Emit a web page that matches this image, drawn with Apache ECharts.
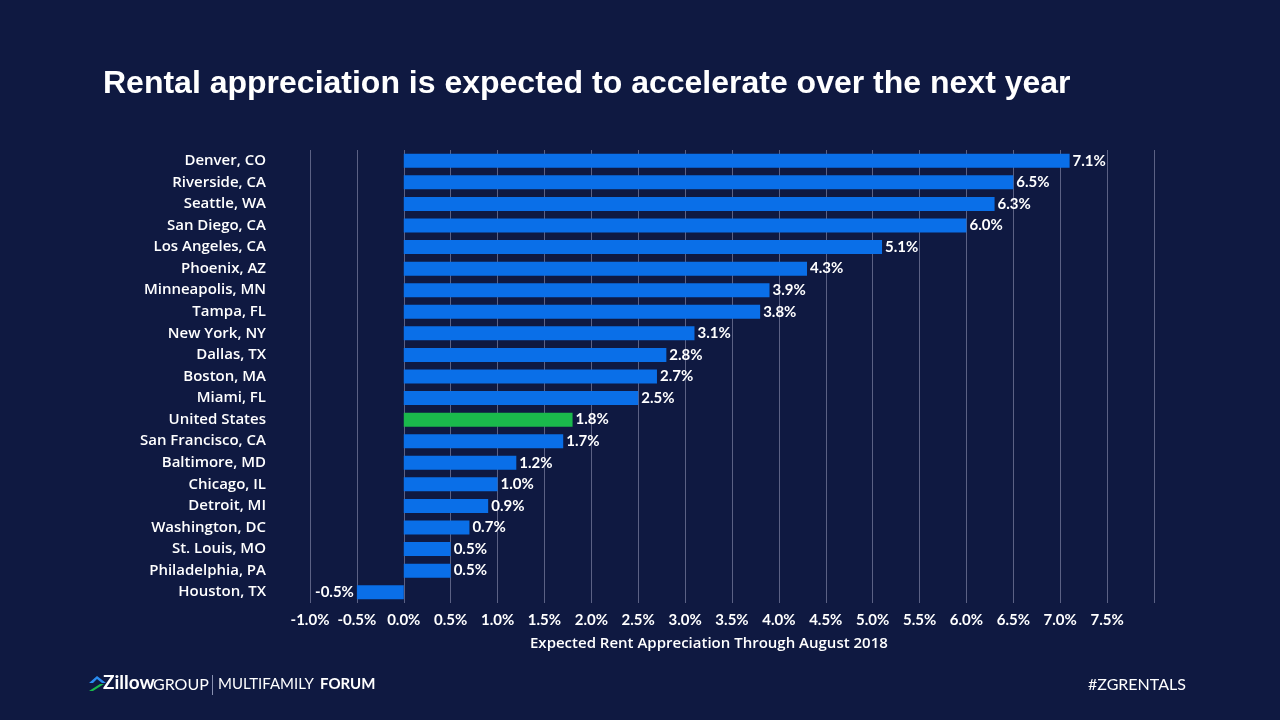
<!DOCTYPE html>
<html>
<head>
<meta charset="utf-8">
<script src="https://cdn.jsdelivr.net/npm/echarts@6/dist/echarts.min.js"></script>
<style>
html,body{margin:0;padding:0;background:#0f1941;}
#c{width:1280px;height:720px;}
</style>
</head>
<body>
<div id="c"></div>
<script>
const categories = ["Denver, CO","Riverside, CA","Seattle, WA","San Diego, CA","Los Angeles, CA","Phoenix, AZ","Minneapolis, MN","Tampa, FL","New York, NY","Dallas, TX","Boston, MA","Miami, FL","United States","San Francisco, CA","Baltimore, MD","Chicago, IL","Detroit, MI","Washington, DC","St. Louis, MO","Philadelphia, PA","Houston, TX"];
const values = [7.1,6.5,6.3,6.0,5.1,4.3,3.9,3.8,3.1,2.8,2.7,2.5,1.8,1.7,1.2,1.0,0.9,0.7,0.5,0.5,-0.5];
const highlight = "United States";
const title = "Rental appreciation is expected to accelerate over the next year";
const axisTitle = "Expected Rent Appreciation Through August 2018";

const FONT = "Lato, 'Open Sans', sans-serif";
const WFONT = "'Open Sans', Lato, sans-serif";
const chart = echarts.init(document.getElementById('c'));
const data = values.map((v, i) => ({
  value: v,
  itemStyle: { color: categories[i] === highlight ? '#1ab94c' : '#0a6fe8' },
  label: { position: v < 0 ? 'left' : 'right' }
}));
chart.setOption({
  backgroundColor: '#0f1941',
  animation: false,
  title: {
    text: title, left: 98, top: 63,
    textStyle: { color: '#ffffff', fontSize: 32, fontWeight: 'bold', fontFamily: "'Liberation Sans', Arial, sans-serif" }
  },
  grid: { left: 310, right: 126, top: 150, bottom: 117, containLabel: false },
  xAxis: {
    type: 'value', min: -1, max: 8, interval: 0.5,
    axisLine: { show: false }, axisTick: { show: false },
    splitLine: { show: true, lineStyle: { color: '#5b6184', width: 1 } },
    axisLabel: {
      color: '#ffffff', fontSize: 15, fontFamily: FONT, fontWeight: 'bold', margin: 10,
      formatter: v => (v >= 7.99 ? '' : v.toFixed(1) + '%')
    }
  },
  yAxis: {
    type: 'category', data: categories, inverse: true,
    axisLine: { show: false }, axisTick: { show: false },
    axisLabel: { color: '#ffffff', fontSize: 15, fontFamily: WFONT, fontWeight: 600, margin: 44 }
  },
  series: [{
    type: 'bar', data: data, barCategoryGap: '35%',
    label: {
      show: true, color: '#ffffff', fontSize: 15, fontFamily: FONT, fontWeight: 'bold', distance: 3,
      formatter: p => p.value.toFixed(1) + '%'
    }
  }],
  graphic: [
    { type: 'text', left: 530, top: 636, style: { text: axisTitle, fill: '#ffffff', fontSize: 15, fontWeight: 600, fontFamily: WFONT } },
    { type: 'polygon', shape: { points: [[89,683],[97,676],[106,683],[102,683],[97,679],[93,683]] }, style: { fill: '#2a8cf0' } },
    { type: 'polygon', shape: { points: [[89,691],[100,684],[104,684],[93,691]] }, style: { fill: '#1ab94c' } },
    { type: 'text', left: 103, top: 673, style: { text: 'Zillow', fill: '#ffffff', fontSize: 19, fontWeight: 'bold', fontFamily: FONT } },
    { type: 'text', left: 153, top: 677, style: { text: 'GROUP', fill: '#ffffff', fontSize: 16, fontFamily: FONT } },
    { type: 'rect', shape: { x: 212, y: 675, width: 1, height: 20 }, style: { fill: '#8890b0' } },
    { type: 'text', left: 218, top: 677, style: { text: 'MULTIFAMILY', fill: '#ffffff', fontSize: 15, fontFamily: FONT } },
    { type: 'text', left: 320, top: 677, style: { text: 'FORUM', fill: '#ffffff', fontSize: 15, fontWeight: 'bold', fontFamily: FONT } },
    { type: 'text', left: 1088, top: 677, style: { text: '#ZGRENTALS', fill: '#ffffff', fontSize: 16, fontFamily: FONT } }
  ]
});
</script>
</body>
</html>
